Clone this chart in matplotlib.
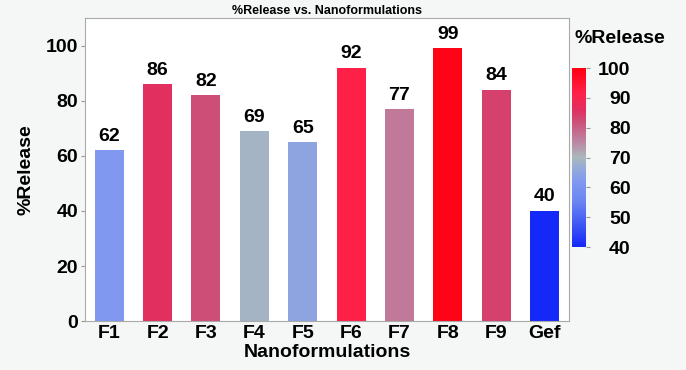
import matplotlib
matplotlib.use("Agg")
import matplotlib.pyplot as plt
from matplotlib.colors import LinearSegmentedColormap, Normalize
import numpy as np

categories = ["F1", "F2", "F3", "F4", "F5", "F6", "F7", "F8", "F9", "Gef"]
release = [62, 86, 82, 69, 65, 92, 77, 99, 84, 40]
cbar_ticks = [40, 50, 60, 70, 80, 90, 100]

plt.rcParams['font.family'] = ['Liberation Sans', 'DejaVu Sans']
plt.rcParams['font.weight'] = 'bold'

vmin, vmax = 40, 100
anchors = [(40, "#1428f8"), (55, "#6a84f2"), (62, "#8098f0"), (66, "#92a8dc"),
           (70, "#aab8bc"), (77, "#c07898"), (82, "#cc5078"), (86, "#e03060"),
           (92, "#ff2048"), (100, "#ff0010")]
cmap = LinearSegmentedColormap.from_list(
    "jmp", [((v - vmin) / (vmax - vmin), c) for v, c in anchors])
norm = Normalize(vmin=vmin, vmax=vmax)

fig = plt.figure(figsize=(6.86, 3.70), dpi=100, facecolor="#f5f6f6")
ax = fig.add_axes([0.124, 0.132, 0.705, 0.819])
ax.set_facecolor("white")

x = np.arange(len(categories))
ax.bar(x, release, width=0.6, color=[cmap(norm(v)) for v in release])
for xi, v in zip(x, release):
    ax.text(xi, v + 2, f"{v}", ha="center", va="bottom", fontsize=14, fontweight="bold")

ax.set_xlim(-0.5, 9.5)
ax.set_ylim(0, 110)
ax.set_yticks([0, 20, 40, 60, 80, 100])
ax.set_xticks(x)
ax.set_xticklabels(categories)
ax.tick_params(axis="y", labelsize=14, length=3, color="#999999", pad=2)
ax.tick_params(axis="x", labelsize=14, length=0, pad=3)
for s in ax.spines.values():
    s.set_color("#aaaaaa")
    s.set_linewidth(0.8)
ax.set_ylabel("%Release", fontsize=14, fontweight="bold", labelpad=8)
ax.set_xlabel("Nanoformulations", fontsize=14, fontweight="bold", labelpad=1)
ax.set_title("%Release vs. Nanoformulations", fontsize=9, fontweight="bold", pad=3)

cax = fig.add_axes([0.834, 0.332, 0.0204, 0.484])
sm = matplotlib.cm.ScalarMappable(norm=norm, cmap=cmap)
cb = fig.colorbar(sm, cax=cax, ticks=cbar_ticks)
cb.outline.set_visible(False)
cax.tick_params(labelsize=14, length=3, color="#999999", pad=29)
for lbl in cax.get_yticklabels():
    lbl.set_horizontalalignment("right")
fig.text(0.838, 0.895, "%Release", fontsize=14, fontweight="bold", ha="left", va="center")

fig.savefig("out.png", dpi=100, facecolor=fig.get_facecolor())
